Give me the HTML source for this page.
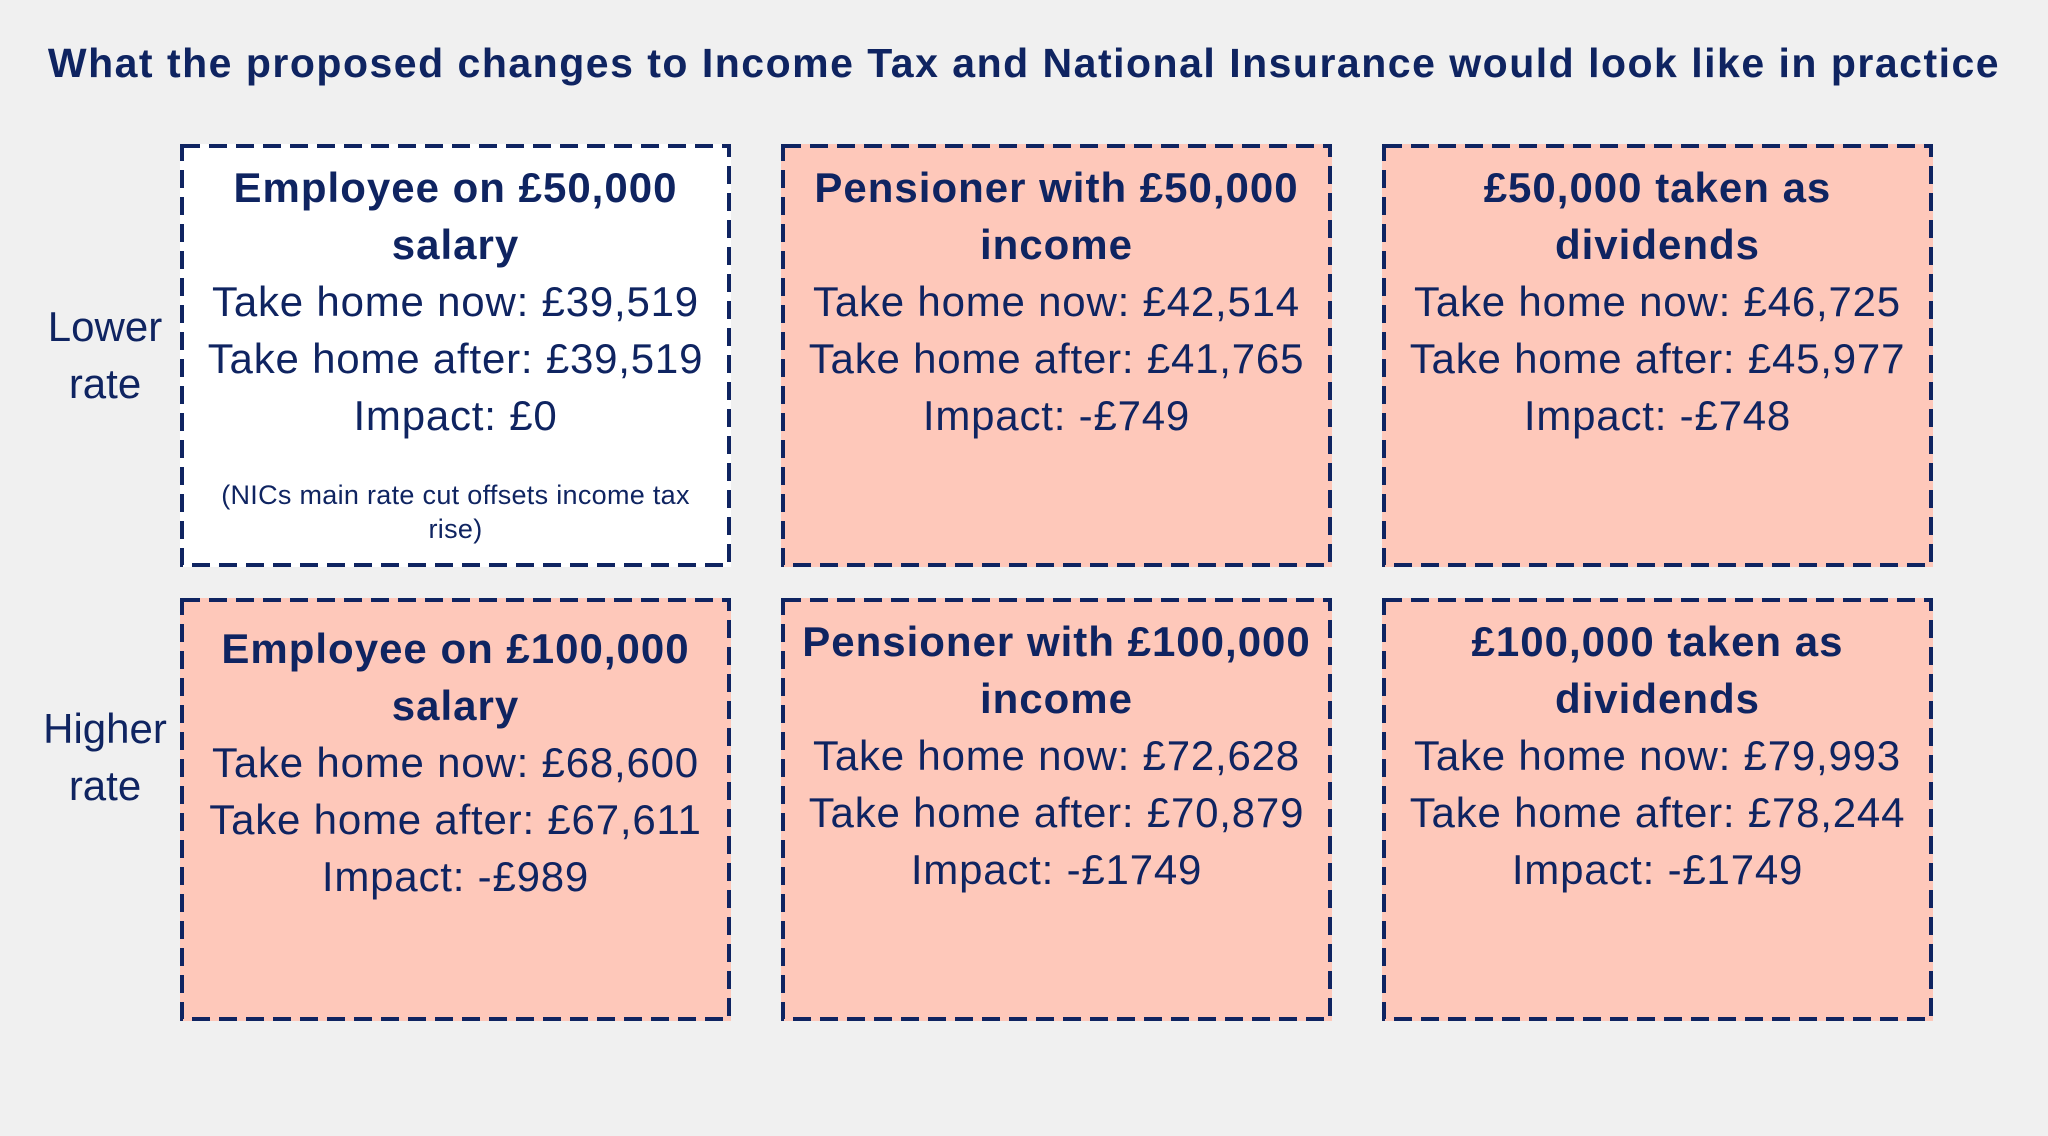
<!DOCTYPE html>
<html><head><meta charset="utf-8"><style>
body{margin:0;width:2048px;height:1136px;background:#f0f0f0;font-family:"Liberation Sans",sans-serif;color:#0f2461;position:relative;overflow:hidden}
.t{position:absolute;left:0;width:2048px;top:39px;text-align:center;font-weight:bold;font-size:41px;letter-spacing:1.5px;line-height:48px}
.b{position:absolute;width:551px;height:423px;box-sizing:border-box;background:#fec8ba;text-align:center;font-size:42px;letter-spacing:0.8px;line-height:57px}
.b svg{position:absolute;left:0;top:0}
.b h{display:block;font-weight:bold;font-size:42px;letter-spacing:1px}
.w{background:#fff}
.l{position:absolute;width:130px;left:40px;text-align:center;font-size:42px;line-height:57px}
.s{font-size:27px;letter-spacing:0.3px;line-height:34px;margin-top:34px}
</style></head><body>
<div class="t">What the proposed changes to Income Tax and National Insurance would look like in practice</div>
<div class="l" style="top:298px">Lower<br>rate</div>
<div class="l" style="top:700px">Higher<br>rate</div>
<div class="b w" style="left:180px;top:144px;padding-top:15px"><svg width="551" height="423"><rect x="2" y="2" width="547" height="419" fill="none" stroke="#0f2461" stroke-width="4" stroke-dasharray="18 9"/></svg><h>Employee on £50,000<br>salary</h>Take home now: £39,519<br>Take home after: £39,519<br>Impact: £0<div class="s">(NICs main rate cut offsets income tax<br>rise)</div></div>
<div class="b" style="left:781px;top:144px;padding-top:15px"><svg width="551" height="423"><rect x="2" y="2" width="547" height="419" fill="none" stroke="#0f2461" stroke-width="4" stroke-dasharray="18 9"/></svg><h>Pensioner with £50,000<br>income</h>Take home now: £42,514<br>Take home after: £41,765<br>Impact: -£749</div>
<div class="b" style="left:1382px;top:144px;padding-top:15px"><svg width="551" height="423"><rect x="2" y="2" width="547" height="419" fill="none" stroke="#0f2461" stroke-width="4" stroke-dasharray="18 9"/></svg><h>£50,000 taken as<br>dividends</h>Take home now: £46,725<br>Take home after: £45,977<br>Impact: -£748</div>
<div class="b" style="left:180px;top:598px;padding-top:22px"><svg width="551" height="423"><rect x="2" y="2" width="547" height="419" fill="none" stroke="#0f2461" stroke-width="4" stroke-dasharray="18 9"/></svg><h>Employee on £100,000<br>salary</h>Take home now: £68,600<br>Take home after: £67,611<br>Impact: -£989</div>
<div class="b" style="left:781px;top:598px;padding-top:15px"><svg width="551" height="423"><rect x="2" y="2" width="547" height="419" fill="none" stroke="#0f2461" stroke-width="4" stroke-dasharray="18 9"/></svg><h>Pensioner with £100,000<br>income</h>Take home now: £72,628<br>Take home after: £70,879<br>Impact: -£1749</div>
<div class="b" style="left:1382px;top:598px;padding-top:15px"><svg width="551" height="423"><rect x="2" y="2" width="547" height="419" fill="none" stroke="#0f2461" stroke-width="4" stroke-dasharray="18 9"/></svg><h>£100,000 taken as<br>dividends</h>Take home now: £79,993<br>Take home after: £78,244<br>Impact: -£1749</div>
</body></html>
